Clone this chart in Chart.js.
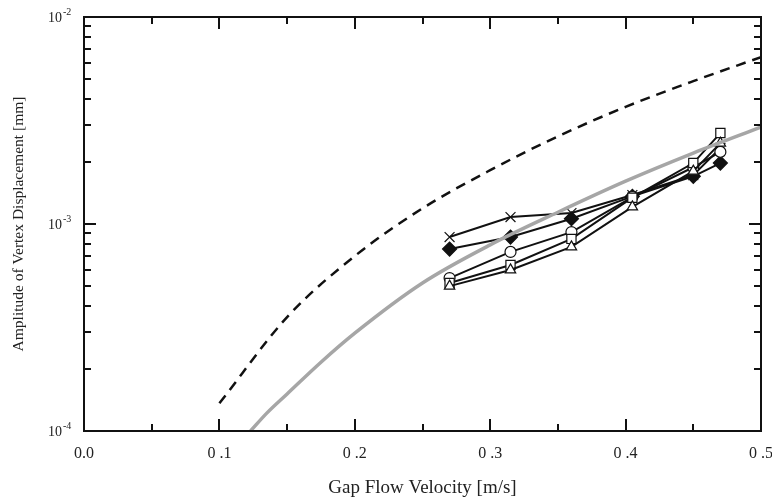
<!DOCTYPE html>
<html>
<head>
<meta charset="utf-8">
<style>
  html, body { margin: 0; padding: 0; background: #fff; }
  #wrap { width: 772px; height: 499px; }
</style>
<script src="https://cdn.jsdelivr.net/npm/chart.js@4/dist/chart.umd.min.js"></script>
</head>
<body>
<div id="wrap"><canvas id="chart"></canvas></div>
<script>
// measured points (gap flow velocity, m/s)
const velocity = [0.27, 0.315, 0.36, 0.405, 0.45, 0.47];
const ampCross    = [8.65e-4, 1.08e-3, 1.13e-3, 1.38e-3, 1.72e-3, 2.33e-3];
const ampDiamond  = [7.57e-4, 8.65e-4, 1.06e-3, 1.36e-3, 1.70e-3, 1.97e-3];
const ampCircle   = [5.48e-4, 7.33e-4, 9.14e-4, 1.35e-3, 1.88e-3, 2.23e-3];
const ampSquare   = [5.19e-4, 6.34e-4, 8.47e-4, 1.34e-3, 1.97e-3, 2.75e-3];
const ampTriangle = [5.01e-4, 6.00e-4, 7.75e-4, 1.21e-3, 1.80e-3, 2.46e-3];

// dashed curve
const dashVel = [0.1, 0.15, 0.2, 0.25, 0.3, 0.35, 0.4, 0.45, 0.5];
const dashAmp = [1.36e-4, 3.55e-4, 7.0e-4, 1.19e-3, 1.82e-3, 2.65e-3, 3.68e-3, 4.9e-3, 6.4e-3];

// gray curve
const grayVel = [0.123, 0.135, 0.15, 0.175, 0.2, 0.25, 0.3, 0.35, 0.4, 0.45, 0.5];
const grayAmp = [1.0e-4, 1.22e-4, 1.51e-4, 2.15e-4, 2.97e-4, 5.19e-4, 7.93e-4, 1.14e-3, 1.61e-3, 2.20e-3, 2.94e-3];

const xTickValues = [0, 0.1, 0.2, 0.3, 0.4, 0.5];
const xTickLabels = ['0.0', '0 .1', '0 .2', '0 .3', '0 .4', '0 .5'];
const yDecadeExps = [-2, -3, -4];

const xTitle = 'Gap Flow Velocity [m/s]';
const yTitle = 'Amplitude of Vertex Displacement [mm]';

function pts(xs, ys) {
  return xs.map(function (x, i) { return { x: x, y: ys[i] }; });
}

function series(data, style, fill, radius) {
  return {
    data: pts(velocity, data),
    showLine: true,
    borderColor: '#111',
    borderWidth: 2,
    pointStyle: style,
    pointRadius: radius,
    pointBackgroundColor: fill,
    pointBorderColor: '#111',
    pointBorderWidth: 1.2,
    order: 2
  };
}

const SERIF = '"Liberation Serif", "Times New Roman", serif';

// frame, inward ticks and labels drawn from the scales
const framePlugin = {
  id: 'frame',
  afterDraw: function (chart) {
    const ctx = chart.ctx;
    const a = chart.chartArea;
    const xs = chart.scales.x;
    const ys = chart.scales.y;
    ctx.save();
    ctx.strokeStyle = '#111';
    ctx.lineWidth = 2;
    ctx.strokeRect(a.left, a.top, a.right - a.left, a.bottom - a.top);

    ctx.beginPath();
    for (let v = 0; v <= 0.5001; v += 0.05) {
      const px = Math.round(xs.getPixelForValue(v));
      const major = Math.abs(v * 10 - Math.round(v * 10)) < 1e-6;
      const len = major ? 12 : 7;
      ctx.moveTo(px, a.bottom); ctx.lineTo(px, a.bottom - len);
      ctx.moveTo(px, a.top); ctx.lineTo(px, a.top + len);
    }
    for (let e = -4; e < -2; e++) {
      for (let m = 1; m <= 9; m++) {
        const py = Math.round(ys.getPixelForValue(m * Math.pow(10, e)));
        const len = m === 1 ? 12 : 7;
        ctx.moveTo(a.left, py); ctx.lineTo(a.left + len, py);
        ctx.moveTo(a.right, py); ctx.lineTo(a.right - len, py);
      }
    }
    ctx.stroke();

    ctx.fillStyle = '#222';
    ctx.font = '16px ' + SERIF;
    ctx.textAlign = 'center';
    ctx.textBaseline = 'middle';
    xTickValues.forEach(function (v, i) {
      ctx.fillText(xTickLabels[i], xs.getPixelForValue(v), a.bottom + 23);
    });

    yDecadeExps.forEach(function (e) {
      const py = ys.getPixelForValue(Math.pow(10, e));
      ctx.font = '14px ' + SERIF;
      ctx.textAlign = 'right';
      ctx.fillText('10', a.left - 22, py + 1);
      ctx.font = '10px ' + SERIF;
      ctx.textAlign = 'left';
      ctx.fillText(String(e), a.left - 21, py - 5);
    });

    ctx.font = '19px ' + SERIF;
    ctx.textAlign = 'center';
    ctx.fillText(xTitle, (a.left + a.right) / 2, a.bottom + 57);
    ctx.font = '15.5px ' + SERIF;
    ctx.translate(19, (a.top + a.bottom) / 2);
    ctx.rotate(-Math.PI / 2);
    ctx.fillText(yTitle, 0, 0);
    ctx.restore();
  }
};

new Chart(document.getElementById('chart'), {
  type: 'scatter',
  data: {
    datasets: [
      {
        data: pts(dashVel, dashAmp),
        showLine: true,
        borderColor: '#111',
        borderWidth: 2.5,
        borderDash: [10, 7],
        pointRadius: 0,
        cubicInterpolationMode: 'monotone',
        order: 3
      },
      {
        data: pts(grayVel, grayAmp),
        showLine: true,
        borderColor: '#a6a6a6',
        borderWidth: 3.5,
        pointRadius: 0,
        cubicInterpolationMode: 'monotone',
        order: 1
      },
      series(ampTriangle, 'triangle', '#fff', 6),
      series(ampSquare, 'rect', '#fff', 6.5),
      series(ampCircle, 'circle', '#fff', 5.5),
      series(ampDiamond, 'rectRot', '#111', 7),
      series(ampCross, 'crossRot', '#111', 7)
    ]
  },
  options: {
    responsive: true,
    maintainAspectRatio: false,
    animation: false,
    layout: { padding: { left: 84, right: 11, top: 17, bottom: 68 } },
    plugins: {
      legend: { display: false },
      tooltip: { enabled: false }
    },
    scales: {
      x: {
        type: 'linear',
        min: 0,
        max: 0.5,
        display: false
      },
      y: {
        type: 'logarithmic',
        min: 1e-4,
        max: 1e-2,
        display: false
      }
    }
  },
  plugins: [framePlugin]
});
</script>
</body>
</html>
